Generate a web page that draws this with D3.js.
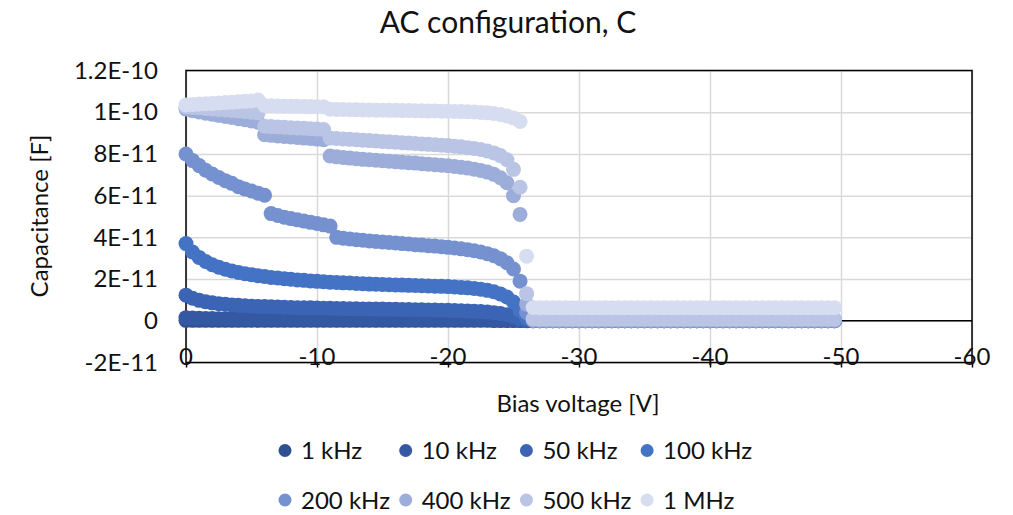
<!DOCTYPE html>
<html>
<head>
<meta charset="utf-8">
<script src="https://cdn.jsdelivr.net/npm/d3@7"></script>
<style>
  body { margin: 0; background: #fff; }
  svg { font-family: Lato, "Open Sans", sans-serif; }
</style>
</head>
<body>
<svg id="chart" width="1013" height="515"></svg>
<script>
// Bias voltage sweep [V]
const VOLTAGES = [
  0, -0.5, -1, -1.5, -2, -2.5, -3, -3.5, -4, -4.5,
  -5, -5.5, -6, -6.5, -7, -7.5, -8, -8.5, -9, -9.5,
  -10, -10.5, -11, -11.5, -12, -12.5, -13, -13.5, -14, -14.5,
  -15, -15.5, -16, -16.5, -17, -17.5, -18, -18.5, -19, -19.5,
  -20, -20.5, -21, -21.5, -22, -22.5, -23, -23.5, -24, -24.5,
  -25, -25.5, -26, -26.5, -27, -27.5, -28, -28.5, -29, -29.5,
  -30, -30.5, -31, -31.5, -32, -32.5, -33, -33.5, -34, -34.5,
  -35, -35.5, -36, -36.5, -37, -37.5, -38, -38.5, -39, -39.5,
  -40, -40.5, -41, -41.5, -42, -42.5, -43, -43.5, -44, -44.5,
  -45, -45.5, -46, -46.5, -47, -47.5, -48, -48.5, -49, -49.5
];

// Capacitance per frequency, in pF
const C_1KHZ = [
  0.2, 0.2, 0.2, 0.2, 0.2, 0.2, 0.2, 0.2, 0.2, 0.2,
  0.2, 0.2, 0.2, 0.2, 0.2, 0.2, 0.2, 0.2, 0.2, 0.2,
  0.2, 0.2, 0.2, 0.2, 0.2, 0.2, 0.2, 0.2, 0.2, 0.2,
  0.2, 0.2, 0.2, 0.2, 0.2, 0.2, 0.2, 0.2, 0.2, 0.2,
  0.2, 0.2, 0.2, 0.2, 0.2, 0.2, 0.2, 0.1, 0.1, 0.1,
  0.1, 0.1, 0.0, 0.0, 0.0, 0.0, 0.0, 0.0, 0.0, 0.0,
  0.0, 0.0, 0.0, 0.0, 0.0, 0.0, 0.0, 0.0, 0.0, 0.0,
  0.0, 0.0, 0.0, 0.0, 0.0, 0.0, 0.0, 0.0, 0.0, 0.0,
  0.0, 0.0, 0.0, 0.0, 0.0, 0.0, 0.0, 0.0, 0.0, 0.0,
  0.0, 0.0, 0.0, 0.0, 0.0, 0.0, 0.0, 0.0, 0.0, 0.0
];
const C_10KHZ = [
  1.5, 1.3, 1.2, 1.1, 1.1, 1.0, 1.0, 1.0, 0.9, 0.9,
  0.9, 0.9, 0.9, 0.9, 0.8, 0.8, 0.8, 0.8, 0.8, 0.8,
  0.8, 0.8, 0.8, 0.8, 0.8, 0.8, 0.8, 0.8, 0.8, 0.8,
  0.8, 0.8, 0.7, 0.7, 0.7, 0.7, 0.7, 0.7, 0.7, 0.7,
  0.7, 0.7, 0.7, 0.7, 0.6, 0.6, 0.6, 0.5, 0.5, 0.4,
  0.3, 0.2, 0.1, 0.0, 0.0, 0.0, 0.0, 0.0, 0.0, 0.0,
  0.0, 0.0, 0.0, 0.0, 0.0, 0.0, 0.0, 0.0, 0.0, 0.0,
  0.0, 0.0, 0.0, 0.0, 0.0, 0.0, 0.0, 0.0, 0.0, 0.0,
  0.0, 0.0, 0.0, 0.0, 0.0, 0.0, 0.0, 0.0, 0.0, 0.0,
  0.0, 0.0, 0.0, 0.0, 0.0, 0.0, 0.0, 0.0, 0.0, 0.0
];
const C_50KHZ = [
  12.3, 10.8, 9.8, 9.1, 8.6, 8.2, 7.9, 7.6, 7.4, 7.2,
  7.0, 6.9, 6.8, 6.7, 6.6, 6.5, 6.4, 6.3, 6.2, 6.2,
  6.1, 6.0, 6.0, 5.9, 5.9, 5.8, 5.8, 5.7, 5.7, 5.6,
  5.6, 5.5, 5.5, 5.4, 5.4, 5.3, 5.3, 5.2, 5.2, 5.1,
  5.0, 4.9, 4.8, 4.7, 4.6, 4.4, 4.2, 3.9, 3.5, 2.9,
  2.0, 0.9, 0.3, 0.1, 0.1, 0.1, 0.1, 0.1, 0.1, 0.1,
  0.1, 0.1, 0.1, 0.1, 0.1, 0.1, 0.1, 0.1, 0.1, 0.1,
  0.1, 0.1, 0.1, 0.1, 0.1, 0.1, 0.1, 0.1, 0.1, 0.1,
  0.1, 0.1, 0.1, 0.1, 0.1, 0.1, 0.1, 0.1, 0.1, 0.1,
  0.1, 0.1, 0.1, 0.1, 0.1, 0.1, 0.1, 0.1, 0.1, 0.1
];
const C_100KHZ = [
  37.0, 33.0, 30.4, 28.4, 26.9, 25.7, 24.7, 23.9, 23.2, 22.6,
  22.1, 21.6, 21.2, 20.8, 20.5, 20.2, 19.9, 19.6, 19.4, 19.1,
  18.9, 18.7, 18.5, 18.4, 18.2, 18.1, 17.9, 17.8, 17.6, 17.5,
  17.4, 17.3, 17.2, 17.1, 17.0, 16.9, 16.8, 16.7, 16.6, 16.5,
  16.4, 16.2, 16.0, 15.8, 15.5, 15.1, 14.6, 13.9, 12.9, 11.4,
  9.0, 4.8, 1.2, 0.2, 0.2, 0.2, 0.2, 0.2, 0.2, 0.2,
  0.2, 0.2, 0.2, 0.2, 0.2, 0.2, 0.2, 0.2, 0.2, 0.2,
  0.2, 0.2, 0.2, 0.2, 0.2, 0.2, 0.2, 0.2, 0.2, 0.2,
  0.2, 0.2, 0.2, 0.2, 0.2, 0.2, 0.2, 0.2, 0.2, 0.2,
  0.2, 0.2, 0.2, 0.2, 0.2, 0.2, 0.2, 0.2, 0.2, 0.2
];
const C_200KHZ = [
  80.0, 76.8, 74.4, 72.2, 70.4, 68.7, 67.2, 65.9, 64.3, 63.2,
  62.2, 61.2, 60.2, 51.4, 50.5, 49.7, 49.0, 48.4, 47.8, 47.2,
  46.7, 46.0, 45.4, 40.0, 39.6, 39.2, 38.9, 38.6, 38.3, 38.0,
  37.8, 37.5, 37.3, 37.0, 36.8, 36.5, 36.3, 36.0, 35.8, 35.5,
  35.2, 34.9, 34.5, 34.1, 33.6, 33.0, 32.2, 31.2, 29.8, 27.8,
  24.8, 19.0, 4.0, 0.3, 0.2, 0.2, 0.2, 0.2, 0.2, 0.2,
  0.2, 0.2, 0.2, 0.2, 0.2, 0.2, 0.2, 0.2, 0.2, 0.2,
  0.2, 0.2, 0.2, 0.2, 0.2, 0.2, 0.2, 0.2, 0.2, 0.2,
  0.2, 0.2, 0.2, 0.2, 0.2, 0.2, 0.2, 0.2, 0.2, 0.2,
  0.2, 0.2, 0.2, 0.2, 0.2, 0.2, 0.2, 0.2, 0.2, 0.2
];
const C_400KHZ = [
  101.5, 100.7, 100.1, 99.5, 99.0, 98.5, 98.0, 97.5, 96.9, 96.4,
  95.8, 95.2, 89.2, 88.9, 88.6, 88.4, 88.1, 87.9, 87.6, 87.4,
  87.1, 86.8, 79.0, 78.6, 78.3, 78.0, 77.7, 77.4, 77.2, 77.0,
  76.7, 76.5, 76.3, 76.0, 75.8, 75.6, 75.3, 75.1, 74.8, 74.6,
  74.3, 74.0, 73.6, 73.2, 72.7, 72.1, 71.3, 70.2, 68.6, 66.2,
  60.0, 51.0, 8.0, 0.3, 0.2, 0.2, 0.2, 0.2, 0.2, 0.2,
  0.2, 0.2, 0.2, 0.2, 0.2, 0.2, 0.2, 0.2, 0.2, 0.2,
  0.2, 0.2, 0.2, 0.2, 0.2, 0.2, 0.2, 0.2, 0.2, 0.2,
  0.2, 0.2, 0.2, 0.2, 0.2, 0.2, 0.2, 0.2, 0.2, 0.2,
  0.2, 0.2, 0.2, 0.2, 0.2, 0.2, 0.2, 0.2, 0.2, 0.2
];
const C_500KHZ = [
  102.5, 102.3, 102.1, 101.8, 101.6, 101.3, 101.1, 100.8, 100.6, 100.3,
  100.0, 99.7, 93.3, 93.1, 92.9, 92.8, 92.6, 92.4, 92.3, 92.1,
  91.9, 91.7, 87.6, 87.4, 87.2, 87.0, 86.8, 86.6, 86.4, 86.2,
  86.0, 85.8, 85.6, 85.4, 85.2, 85.0, 84.8, 84.6, 84.4, 84.2,
  84.0, 83.7, 83.4, 83.0, 82.6, 82.1, 81.4, 80.5, 79.2, 77.2,
  72.6, 64.0, 13.0, 1.0, 0.8, 0.8, 0.8, 0.8, 0.8, 0.8,
  0.8, 0.8, 0.8, 0.8, 0.8, 0.8, 0.8, 0.8, 0.8, 0.8,
  0.8, 0.8, 0.8, 0.8, 0.8, 0.8, 0.8, 0.8, 0.8, 0.8,
  0.8, 0.8, 0.8, 0.8, 0.8, 0.8, 0.8, 0.8, 0.8, 0.8,
  0.8, 0.8, 0.8, 0.8, 0.8, 0.8, 0.8, 0.8, 0.8, 0.8
];
const C_1MHZ = [
  103.5, 103.7, 103.9, 104.1, 104.2, 104.4, 104.6, 104.8, 105.0, 105.2,
  105.4, 105.8, 103.2, 103.1, 103.0, 102.9, 102.9, 102.8, 102.7, 102.7,
  102.6, 102.6, 101.4, 101.3, 101.3, 101.2, 101.2, 101.1, 101.1, 101.0,
  101.0, 100.9, 100.9, 100.8, 100.8, 100.7, 100.7, 100.6, 100.6, 100.5,
  100.5, 100.4, 100.3, 100.2, 100.1, 99.9, 99.7, 99.4, 98.9, 98.2,
  97.2, 95.6, 31.0, 6.4, 6.3, 6.3, 6.3, 6.3, 6.3, 6.3,
  6.3, 6.3, 6.3, 6.3, 6.3, 6.3, 6.3, 6.3, 6.3, 6.3,
  6.3, 6.3, 6.3, 6.3, 6.3, 6.3, 6.3, 6.3, 6.3, 6.3,
  6.3, 6.3, 6.3, 6.3, 6.3, 6.3, 6.3, 6.3, 6.3, 6.3,
  6.3, 6.3, 6.3, 6.3, 6.3, 6.3, 6.3, 6.3, 6.3, 6.3
];

const SERIES_NAMES = ["1 kHz", "10 kHz", "50 kHz", "100 kHz", "200 kHz", "400 kHz", "500 kHz", "1 MHz"];
const SERIES_VALUES = [C_1KHZ, C_10KHZ, C_50KHZ, C_100KHZ, C_200KHZ, C_400KHZ, C_500KHZ, C_1MHZ];
const SERIES_COLORS = ["#2f5090", "#3459a2", "#3b64b4", "#4472c4", "#7591cf", "#9cadda", "#bac5e5", "#d7ddf0"];

const Y_TICKS = [1.2e-10, 1e-10, 8e-11, 6e-11, 4e-11, 2e-11, 0, -2e-11];
const Y_TICK_LABELS = ["1.2E-10", "1E-10", "8E-11", "6E-11", "4E-11", "2E-11", "0", "-2E-11"];
const X_TICKS = [0, -10, -20, -30, -40, -50, -60];
const X_TICK_LABELS = ["0", "-10", "-20", "-30", "-40", "-50", "-60"];

const SVG = d3.select("#chart");
const PLOT = { left: 186, right: 972, top: 70.5, bottom: 362.5 };

// échelles
const X = d3.scaleLinear().domain([0, -60]).range([PLOT.left, PLOT.right]);
const Y = d3.scaleLinear().domain([-2e-11, 1.2e-10]).range([PLOT.bottom, PLOT.top]);

// grille horizontale + libellés de l'axe Y
const gy = SVG.append("g")
  .attr("transform", `translate(${PLOT.left},0)`)
  .call(d3.axisLeft(Y)
    .tickValues(Y_TICKS)
    .tickSize(-(PLOT.right - PLOT.left))
    .tickPadding(28)
    .tickFormat((d, i) => Y_TICK_LABELS[i]));
gy.select(".domain").remove();
gy.selectAll("line").attr("stroke", "#d9d9d9").attr("stroke-width", 1.5);
gy.selectAll("text").attr("font-size", 24).attr("fill", "#111").attr("font-family", "Lato");

// grille verticale
const gx = SVG.append("g")
  .attr("transform", `translate(0,${PLOT.bottom})`)
  .call(d3.axisBottom(X)
    .tickValues(X_TICKS)
    .tickSize(-(PLOT.bottom - PLOT.top))
    .tickFormat(""));
gx.select(".domain").remove();
gx.selectAll("line").attr("stroke", "#d9d9d9").attr("stroke-width", 1.5);

// cadre noir + axe zéro
SVG.append("rect")
  .attr("x", PLOT.left).attr("y", PLOT.top)
  .attr("width", PLOT.right - PLOT.left).attr("height", PLOT.bottom - PLOT.top)
  .attr("fill", "none").attr("stroke", "#000").attr("stroke-width", 1.5);
SVG.append("line")
  .attr("x1", PLOT.left).attr("x2", PLOT.right)
  .attr("y1", Y(0)).attr("y2", Y(0))
  .attr("stroke", "#000").attr("stroke-width", 1.5);

// petites graduations sous le cadre
const gt = SVG.append("g")
  .attr("transform", `translate(0,${PLOT.bottom})`)
  .call(d3.axisBottom(X).tickValues(X_TICKS).tickSize(5).tickFormat(""));
gt.select(".domain").remove();
gt.selectAll("line").attr("stroke", "#000").attr("stroke-width", 1.5);

// points de mesure, séries dans l'ordre (1 MHz au-dessus)
SERIES_VALUES.forEach((vals, s) => {
  SVG.append("g")
    .selectAll("circle")
    .data(VOLTAGES.map((v, i) => ({ v, c: vals[i] * 1e-12 })).filter(d => !isNaN(d.c)))
    .join("circle")
    .attr("cx", d => X(d.v))
    .attr("cy", d => Y(d.c))
    .attr("r", 7.5)
    .attr("fill", SERIES_COLORS[s]);
});

// libellés de l'axe X (placés en bas du cadre)
SVG.append("g").selectAll("text")
  .data(X_TICKS)
  .join("text")
  .attr("x", d => X(d))
  .attr("y", 365)
  .attr("text-anchor", "middle")
  .attr("font-size", 24)
  .attr("fill", "#111")
  .text((d, i) => X_TICK_LABELS[i]);

// titres
SVG.append("text")
  .attr("x", 508).attr("y", 33)
  .attr("text-anchor", "middle")
  .attr("font-size", 30)
  .attr("fill", "#111")
  .text("AC configuration, C");

SVG.append("text")
  .attr("x", 578).attr("y", 412)
  .attr("text-anchor", "middle")
  .attr("font-size", 24)
  .attr("fill", "#111")
  .text("Bias voltage [V]");

SVG.append("text")
  .attr("transform", "translate(48,216) rotate(-90)")
  .attr("text-anchor", "middle")
  .attr("font-size", 24)
  .attr("fill", "#111")
  .text("Capacitance [F]");

// légende sur deux lignes
const legend = SVG.append("g").selectAll("g")
  .data(SERIES_NAMES)
  .join("g")
  .attr("transform", (d, i) => `translate(${285 + (i % 4) * 120.7},${450.5 + Math.floor(i / 4) * 49.5})`);
legend.append("circle")
  .attr("r", 6.5)
  .attr("fill", (d, i) => SERIES_COLORS[i]);
legend.append("text")
  .attr("x", 16)
  .attr("y", 8.5)
  .attr("font-size", 24)
  .attr("fill", "#111")
  .text(d => d);
</script>
</body>
</html>
